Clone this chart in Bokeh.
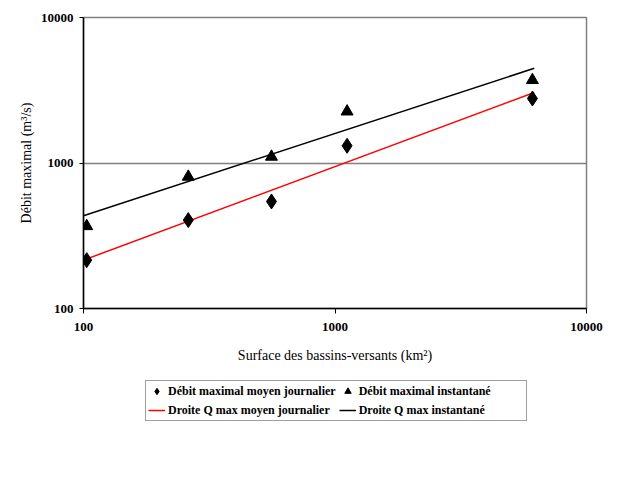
from bokeh.plotting import figure
from bokeh.layouts import column
from bokeh.models import Legend, LegendItem, FixedTicker
from bokeh.embed import file_html
from bokeh.resources import INLINE

# Data
surface = [103, 261, 559, 1117, 6095]
q_journalier = [215, 405, 544, 1313, 2775]
q_instantane = [368, 804, 1104, 2259, 3714]

line_x = [100, 6200]
line_journalier = [215, 3050]
line_instantane = [434, 4480]

ticks = [100, 1000, 10000]
tick_labels = ["100", "1000", "10000"]

labels = ["Débit maximal moyen journalier", "Débit maximal instantané",
          "Droite Q max moyen journalier", "Droite Q max instantané"]

FONT = "Liberation Serif"
RED = "#FF0000"

p = figure(width=621, height=370, x_axis_type="log", y_axis_type="log",
           x_range=(100, 10000), y_range=(100, 10000),
           output_backend="svg", toolbar_location=None,
           min_border_left=83, min_border_right=35, min_border_top=17, min_border_bottom=62)

p.background_fill_color = "white"
p.border_fill_color = "white"
p.outline_line_color = "#808080"
p.outline_line_width = 1.5

p.line(line_x, line_journalier, line_color=RED, line_width=1.5)
p.line(line_x, line_instantane, line_color="black", line_width=1.5)
p.scatter(surface, q_journalier, marker="diamond", size=15, fill_color="black", line_color="black")
p.scatter(surface, q_instantane, marker="triangle", size=12, fill_color="black", line_color="black")

for ax in (p.xaxis[0], p.yaxis[0]):
    ax.ticker = FixedTicker(ticks=ticks, minor_ticks=[])
    ax.major_label_overrides = {t: l for t, l in zip(ticks, tick_labels)}
    ax.major_label_text_font = FONT
    ax.major_label_text_font_style = "bold"
    ax.major_label_text_font_size = "13px"
    ax.major_label_text_color = "black"
    ax.axis_line_color = "black"
    ax.axis_line_width = 1.5
    ax.major_tick_line_color = "black"
    ax.major_tick_in = 0
    ax.minor_tick_line_color = None
    ax.axis_label_text_font = FONT
    ax.axis_label_text_font_style = "normal"
    ax.axis_label_text_color = "black"

p.xaxis[0].major_tick_out = 5
p.xaxis[0].major_label_standoff = 9
p.xaxis[0].axis_label = "Surface des bassins-versants (km²)"
p.xaxis[0].axis_label_text_font_size = "14px"
p.xaxis[0].axis_label_standoff = 14

p.yaxis[0].major_tick_out = 4
p.yaxis[0].major_label_standoff = 6
p.yaxis[0].axis_label = "Débit maximal (m³/s)"
p.yaxis[0].axis_label_text_font_size = "14px"
p.yaxis[0].axis_label_standoff = 4

p.xgrid.grid_line_color = None
p.ygrid.ticker = FixedTicker(ticks=ticks, minor_ticks=[])
p.ygrid.grid_line_color = "#808080"
p.ygrid.grid_line_width = 1.5

# Legend panel below the chart (glyphs placed outside its visible range)
lf = figure(width=621, height=125, x_range=(0, 1), y_range=(0, 1),
            x_axis_location=None, y_axis_location=None,
            output_backend="svg", toolbar_location=None, min_border=0)
lf.outline_line_color = None
lf.grid.grid_line_color = None
lf.background_fill_color = "white"
lf.border_fill_color = "white"

g_j = lf.scatter([-5], [-5], marker="diamond", size=15, fill_color="black", line_color="black")
g_i = lf.scatter([-5], [-5], marker="triangle", size=12, fill_color="black", line_color="black")
g_lj = lf.line([-5, -4], [-5, -5], line_color=RED, line_width=1.5)
g_li = lf.line([-5, -4], [-5, -5], line_color="black", line_width=1.5)

legend = Legend(items=[
    LegendItem(label=labels[0], renderers=[g_j]),
    LegendItem(label=labels[2], renderers=[g_lj]),
    LegendItem(label=labels[1], renderers=[g_i]),
    LegendItem(label=labels[3], renderers=[g_li]),
], ncols=2, location=(62, 74))
legend.label_text_font = FONT
legend.label_text_font_style = "bold"
legend.label_text_font_size = "12px"
legend.label_text_color = "black"
legend.glyph_width = 17
legend.glyph_height = 16
legend.label_height = 16
legend.label_width = 165
legend.label_standoff = 3
legend.spacing = 3
legend.padding = 2
legend.margin = 0
legend.border_line_color = "#404040"
legend.border_line_width = 1.5
legend.background_fill_color = "white"
lf.add_layout(legend, "center")

layout = column(p, lf, spacing=0)
open("out.html", "w").write(file_html(layout, INLINE))
